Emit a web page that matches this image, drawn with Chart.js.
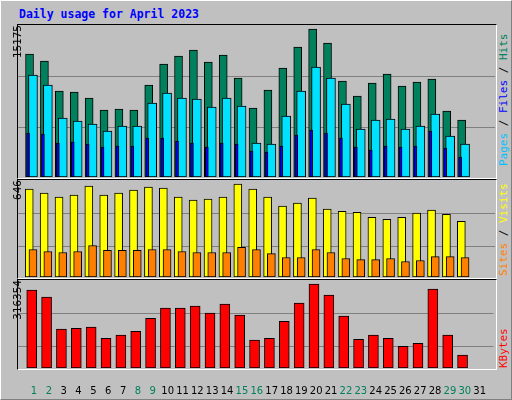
<!DOCTYPE html>
<html><head><meta charset="utf-8">
<script src="https://cdn.jsdelivr.net/npm/chart.js@4"></script>
<style>
html,body{margin:0;padding:0;}
body{width:512px;height:400px;position:relative;background:#C0C0C0;overflow:hidden;font-family:"DejaVu Sans Mono",monospace;}
#frame{position:absolute;left:0;top:0;width:510px;height:398px;border-left:1px solid #fff;border-top:1px solid #fff;border-right:1px solid #808080;border-bottom:1px solid #808080;}
.panel{position:absolute;left:17px;width:478px;border-top:1px solid #000;border-left:1px solid #000;border-right:1px solid #fff;border-bottom:1px solid #fff;}
canvas{position:absolute;}
.rl{position:absolute;transform-origin:0 0;transform:rotate(-90deg);white-space:nowrap;font-size:11px;line-height:12px;}
#title{position:absolute;left:19px;top:7px;color:#0000FF;font-weight:bold;font-size:11.5px;}
</style></head><body>
<div id="frame"></div>
<div id="title">Daily usage for April 2023</div>
<div class="panel" style="top:24px;height:153px"></div>
<div class="panel" style="top:179px;height:98px"></div>
<div class="panel" style="top:279px;height:89px"></div>
<canvas id="c1" width="477" height="152" style="left:18px;top:25px"></canvas>
<canvas id="c2" width="477" height="97" style="left:18px;top:180px"></canvas>
<canvas id="c3" width="477" height="118" style="left:18px;top:280px"></canvas>
<div class="rl" style="left:12px;top:61px;width:36px;text-align:right">15175</div>
<div class="rl" style="left:12px;top:206px;width:26px;text-align:right">646</div>
<div class="rl" style="left:12px;top:322px;width:42px;text-align:right">316354</div>
<div class="rl" style="left:498px;top:166px"><span style="color:#00C0FF">Pages</span> / <span style="color:#0000FF">Files</span> / <span style="color:#00805C">Hits</span></div>
<div class="rl" style="left:498px;top:276px"><span style="color:#FF8000">Sites</span> / <span style="color:#FFFF00">Visits</span></div>
<div class="rl" style="left:498px;top:368px;color:#FF0000">KBytes</div>
<script>
const days=[1,2,3,4,5,6,7,8,9,10,11,12,13,14,15,16,17,18,19,20,21,22,23,24,25,26,27,28,29,30];
const dayLabels=[1,2,3,4,5,6,7,8,9,10,11,12,13,14,15,16,17,18,19,20,21,22,23,24,25,26,27,28,29,30,31];
const weekendDays=[1,2,8,9,15,16,22,23,29,30];
const hits=[12280,11581,8586,8486,7887,6689,6789,6689,9185,11282,12081,12680,11482,12180,9884,6889,8686,10883,12979,14776,13379,9585,8087,9385,10284,9085,9485,9784,6589,5691];
const pages=[10184,9185,5891,5591,5292,4593,5092,5092,7388,8387,7887,7788,6989,7887,7089,3395,3295,6090,8586,10982,9884,7288,4792,5691,5791,4792,5092,6290,4093,3295];
const files=[4393,4293,3395,3494,3295,2995,3095,3095,3894,3894,3594,3395,2995,3395,3295,2596,2496,3095,4193,4692,4393,3894,2995,2696,3095,2995,3095,4593,2895,1997];
const visits=[586,559,532,545,606,545,559,579,599,592,532,512,519,532,619,586,532,472,492,525,452,438,431,398,384,398,425,445,418,371];
const sites=[183,170,163,170,210,177,177,177,183,183,170,163,163,163,197,183,156,130,130,183,163,123,116,116,123,103,110,136,136,130];
const kbytes=[280000,255000,139600,143000,146800,107000,118000,132000,179000,215000,215000,222600,197000,229800,190000,100000,107000,168000,233000,302000,262000,186500,103500,118000,107000,78000,89000,284000,118000,46000];
const maxTop=15175, maxMid=646, maxBot=316354;
const gridTop=[4992,10083], gridMid=[204,425], gridBot=[78000,197000];

const pts=(arr,off)=>arr.map((v,i)=>({x:days[i]+off,y:v}));
const ds=(arr,off,w,c)=>({data:pts(arr,off),backgroundColor:c,borderColor:'#000',borderWidth:1,borderSkipped:false,barThickness:w,grouped:false});
const gridPlugin=(vals)=>({id:'g',beforeDatasetsDraw(ch){const c=ch.ctx,a=ch.chartArea,y=ch.scales.y;c.save();c.strokeStyle='#808080';c.lineWidth=1;vals.forEach(v=>{const p=Math.round(y.getPixelForValue(v))+0.5;c.beginPath();c.moveTo(a.left,p);c.lineTo(a.right,p);c.stroke();});c.restore();}});
function mk(id,datasets,max,grid,showX){
  const x={type:'linear',offset:false,min:-0.074,max:31.94,display:showX,grid:{display:false},border:{display:false},
     afterBuildTicks:s=>{s.ticks=dayLabels.map(v=>({value:v}));},
     ticks:{padding:9,autoSkip:false,maxRotation:0,font:{family:'DejaVu Sans',size:10},
       color:c=>weekendDays.includes(c.tick&&c.tick.value)?'#00805C':'#000',
       callback:v=>String(v)}};
  if(showX) x.afterFit=s=>{s.height=30;};
  return new Chart(document.getElementById(id),{type:'bar',data:{datasets},
  options:{responsive:false,animation:false,devicePixelRatio:1,layout:{padding:0},
  plugins:{legend:{display:false},tooltip:{enabled:false}},
  scales:{x:x,y:{min:0,max:max,display:false}}},
  plugins:[gridPlugin(grid)]});
}
mk('c1',[ds(files,-0.40,3,'#0000FF'),ds(pages,-0.07,9,'#00E0FF'),ds(hits,-0.30,8,'#00805C')],maxTop,gridTop,false);
mk('c2',[ds(sites,-0.07,8,'#FF8000'),ds(visits,-0.32,8,'#FFFF00')],maxMid,gridMid,false);
mk('c3',[ds(kbytes,-0.15,10,'#FF0000')],maxBot,gridBot,true);
</script></body></html>
